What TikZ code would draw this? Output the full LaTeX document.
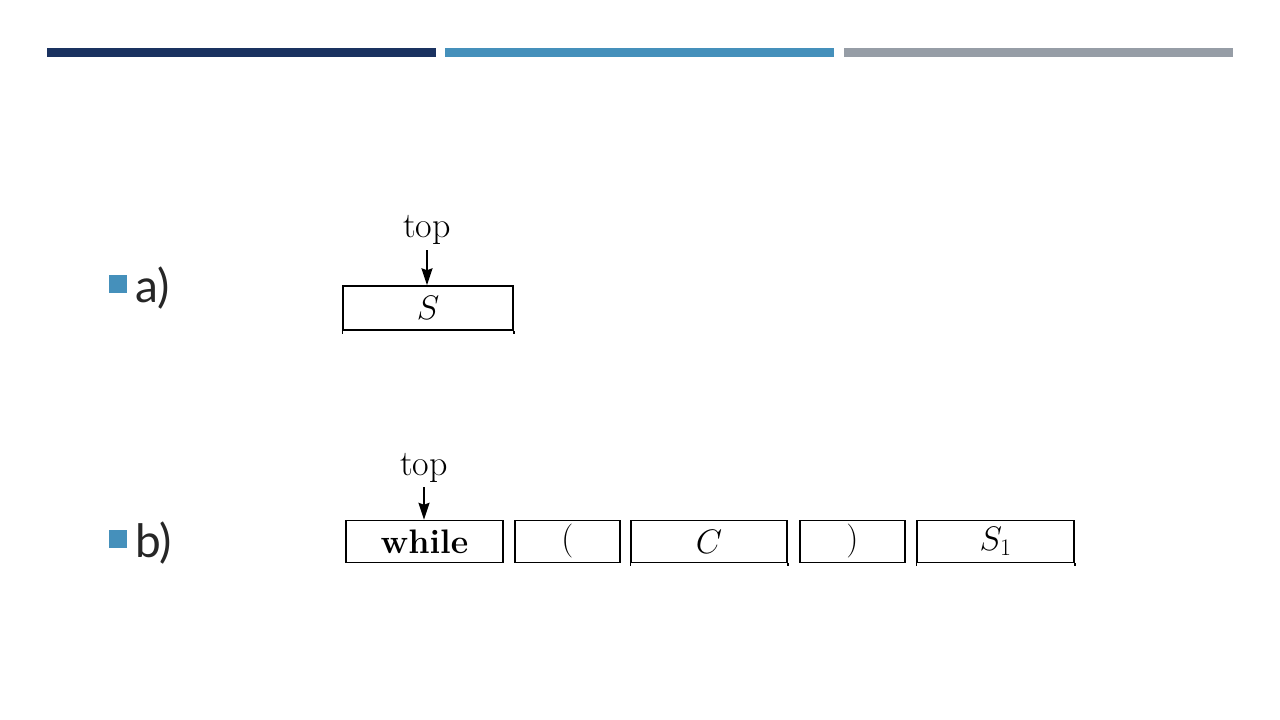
\documentclass[tikz,border=0pt]{standalone}
\usepackage{fix-cm}
\usepackage{fontspec}
\newfontfamily\bulletfont{Lato}
\usetikzlibrary{arrows.meta}
\definecolor{navy}{HTML}{1A3260}
\definecolor{steel}{HTML}{4590BB}
\definecolor{greybar}{HTML}{969DA6}
\begin{document}
\begin{tikzpicture}[x=1pt,y=-1pt,
  cell/.style={draw=black,line width=1.5pt,minimum height=42pt,inner sep=0pt,font=\fontsize{34}{34}\selectfont},
  ptr/.style={line width=1.5pt,-{Stealth[length=17pt,width=11pt,inset=2pt]}},
  toplbl/.style={font=\fontsize{36}{36}\selectfont,inner sep=0pt},
  bulletlbl/.style={font=\bulletfont\fontsize{46}{46}\selectfont,inner sep=0pt,anchor=base west,text=black!85},
  bsq/.style={fill=steel,minimum size=18pt,inner sep=0pt}]
\useasboundingbox (0,0) rectangle (1280,720);
% header bars
\fill[navy] (47,48) rectangle (436,57);
\fill[steel] (445,48) rectangle (834,57);
\fill[greybar] (844,48) rectangle (1233,57);
% bullets
\node[bsq] (sqa) at (118,283.5) {};
\node[bulletlbl] (la) at (135,302) {a)};
\node[bsq] (sqb) at (118,538.5) {};
\node[bulletlbl] (lb) at (135,557) {b)};
% a)
\node[cell,minimum width=170pt,minimum height=44pt] (S) at (428,308) {$S$};
\draw[line width=1.5pt] (S.south west) -- ++(0,3);
\draw[line width=1.5pt] (S.south east) -- ++(0,3);
\node[toplbl] (topa) at (427,230) {top};
\coordinate (ta) at (427,250);
\draw[ptr] (ta) -- (ta |- S.north);
% b)
\node[cell,minimum width=157pt] (w) at (424.5,541.5) {\textbf{while}};
\node[cell,minimum width=105pt] (lp) at (567.5,541.5) {(};
\node[cell,minimum width=156pt] (c) at (709,541.5) {$C$};
\node[cell,minimum width=105pt] (rp) at (852.5,541.5) {)};
\node[cell,minimum width=157pt] (s1) at (995.5,541.5) {$S_1$};
\foreach \n in {c,s1}{
  \draw[line width=1.5pt] (\n.south west) -- ++(0,3);
  \draw[line width=1.5pt] (\n.south east) -- ++(0,3);
}
\node[toplbl] (topb) at (424,468) {top};
\coordinate (tb) at (424,487);
\draw[ptr] (tb) -- (tb |- w.north);
\end{tikzpicture}
\end{document}
